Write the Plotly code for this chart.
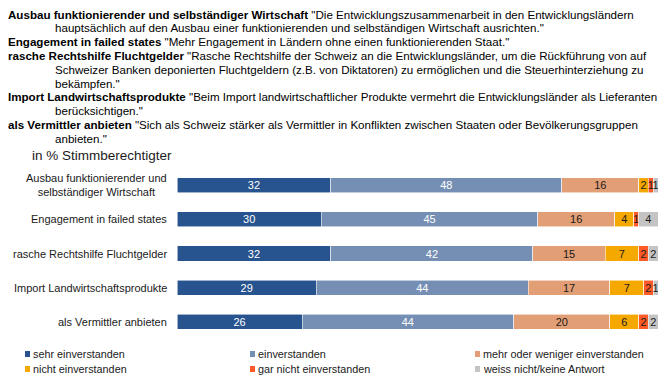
import plotly.graph_objects as go

# Survey items (short labels shown next to the bars)
categories = [
    "Ausbau funktionierender und selbständiger Wirtschaft",
    "Engagement in failed states",
    "rasche Rechtshilfe Fluchtgelder",
    "Import Landwirtschaftsprodukte",
    "als Vermittler anbieten",
]
axis_labels = [
    "Ausbau funktionierender und<br>selbständiger Wirtschaft",
    "Engagement in failed states",
    "rasche Rechtshilfe Fluchtgelder",
    "Import Landwirtschaftsprodukte",
    "als Vermittler anbieten",
]

# Answer categories and shares in % of eligible voters
answers = [
    "sehr einverstanden",
    "einverstanden",
    "mehr oder weniger einverstanden",
    "nicht einverstanden",
    "gar nicht einverstanden",
    "weiss nicht/keine Antwort",
]
sehr_einverstanden = [32, 30, 32, 29, 26]
einverstanden = [48, 45, 42, 44, 44]
mehr_oder_weniger = [16, 16, 15, 17, 20]
nicht_einverstanden = [2, 4, 7, 7, 6]
gar_nicht = [1, 1, 2, 2, 2]
weiss_nicht = [1, 4, 2, 1, 2]
series = [sehr_einverstanden, einverstanden, mehr_oder_weniger,
          nicht_einverstanden, gar_nicht, weiss_nicht]

colors = ["#27538E", "#758FB4", "#E29E75", "#F5A800", "#FF5A28", "#C4C4C4"]
text_colors = ["white", "white", "#1a1a1a", "#1a1a1a", "#1a1a1a", "#1a1a1a"]

# Question wording: (bold label, continuation lines)
questions = [
    ("Ausbau funktionierender und selbständiger Wirtschaft",
     ['"Die Entwicklungszusammenarbeit in den Entwicklungsländern',
      'hauptsächlich auf den Ausbau einer funktionierenden und selbständigen Wirtschaft ausrichten."']),
    ("Engagement in failed states",
     ['"Mehr Engagement in Ländern ohne einen funktionierenden Staat."']),
    ("rasche Rechtshilfe Fluchtgelder",
     ['"Rasche Rechtshilfe der Schweiz an die Entwicklungsländer, um die Rückführung von auf',
      'Schweizer Banken deponierten Fluchtgeldern (z.B. von Diktatoren) zu ermöglichen und die Steuerhinterziehung zu',
      'bekämpfen."']),
    ("Import Landwirtschaftsprodukte",
     ['"Beim Import landwirtschaftlicher Produkte vermehrt die Entwicklungsländer als Lieferanten',
      'berücksichtigen."']),
    ("als Vermittler anbieten",
     ['"Sich als Schweiz stärker als Vermittler in Konflikten zwischen Staaten oder Bevölkerungsgruppen',
      'anbieten."']),
]

FONT = "Liberation Sans, Arial, sans-serif"
W, H = 661, 381
L, R, T, B = 177, 3, 168, 42
PW, PH = W - L - R, H - T - B


def px(x):
    return (x - L) / PW


def py(y):
    return (H - B - y) / PH


fig = go.Figure()
for name, vals, col, tcol in zip(answers, series, colors, text_colors):
    fig.add_trace(go.Bar(
        name=name, y=categories, x=vals, orientation="h",
        marker=dict(color=col, line=dict(color="rgba(255,255,255,0.7)", width=0.8)),
        text=[str(v) for v in vals], textposition="inside", textangle=0,
        insidetextanchor="middle", constraintext="none",
        textfont=dict(family=FONT, size=11, color=tcol),
        showlegend=False,
    ))

annotations = []
# Question block at the top, hanging indent for continuation lines
TITLE_SIZE = 11.6
line_y = 14
for label, rest in questions:
    annotations.append(dict(
        x=px(6), y=py(line_y), xref="paper", yref="paper",
        xanchor="left", yanchor="middle", showarrow=False,
        text=f"<b>{label}</b> {rest[0]}",
        font=dict(family=FONT, size=TITLE_SIZE, color="#000000")))
    line_y += 13.8
    for extra in rest[1:]:
        annotations.append(dict(
            x=px(53), y=py(line_y), xref="paper", yref="paper",
            xanchor="left", yanchor="middle", showarrow=False,
            text=extra, font=dict(family=FONT, size=TITLE_SIZE, color="#000000")))
        line_y += 13.8

annotations.append(dict(
    x=px(30), y=py(155), xref="paper", yref="paper",
    xanchor="left", yanchor="middle", showarrow=False,
    text="in % Stimmberechtigter",
    font=dict(family=FONT, size=13.5, color="#1a1a1a")))

# Category labels, centred lines, right edge next to the bars
for cat, lab in zip(categories, axis_labels):
    annotations.append(dict(
        x=0, y=cat, xref="paper", yref="y", xanchor="right", yanchor="middle",
        xshift=-8, align="center", showarrow=False, text=lab,
        font=dict(family=FONT, size=11, color="#1a1a1a")))

# Legend in three columns, two rows
shapes = []
leg_x = [25, 250, 475]
leg_y = [354, 369]
for i, (name, col) in enumerate(zip(answers, colors)):
    cx = leg_x[i % 3]
    cy = leg_y[i // 3]
    shapes.append(dict(type="rect", xref="paper", yref="paper",
                       x0=px(cx), x1=px(cx + 5), y0=py(cy + 3), y1=py(cy - 3),
                       fillcolor=col, line=dict(width=0)))
    annotations.append(dict(
        x=px(cx + 6), y=py(cy), xref="paper", yref="paper",
        xanchor="left", yanchor="middle", showarrow=False, text=name,
        font=dict(family=FONT, size=10.8, color="#1a1a1a")))

fig.update_layout(
    width=W, height=H,
    margin=dict(l=L, r=R, t=T, b=B),
    paper_bgcolor="white", plot_bgcolor="white",
    barmode="stack", bargap=0.56,
    xaxis=dict(range=[0, 100], visible=False),
    yaxis=dict(autorange="reversed", visible=False),
    uniformtext=dict(minsize=11, mode="show"),
    annotations=annotations, shapes=shapes,
)

fig.write_html("out.html")
